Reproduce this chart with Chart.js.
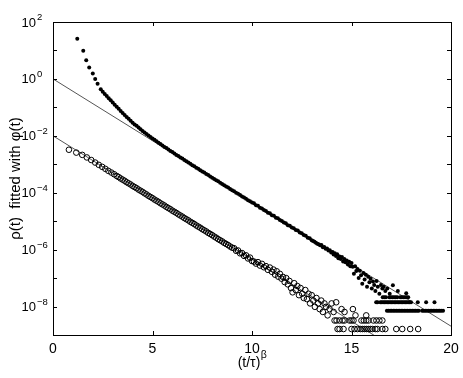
<!DOCTYPE html>
<html>
<head>
<meta charset="utf-8">
<script src="https://cdn.jsdelivr.net/npm/chart.js@4"></script>
<style>
  html, body { margin: 0; padding: 0; background: #fff; }
</style>
</head>
<body>
<canvas id="chartRho" width="463" height="378"></canvas>
<script>
// x = (t/tau)^beta, y kept as decade exponents (log10)

// filled dots: rho(t)
const upperX = [1.22, 1.52, 1.67, 1.82, 2.00, 2.12, 2.24,
  2.4, 2.5, 2.6, 2.7, 2.8, 2.9, 3.0, 3.1, 3.2, 3.3, 3.4, 3.5, 3.6, 3.7, 3.8, 3.9,
  4.0, 4.1, 4.2, 4.3, 4.4, 4.5, 4.6, 4.7, 4.8, 4.9,
  5.0, 5.1, 5.2, 5.3, 5.4, 5.5, 5.6, 5.7, 5.8, 5.9,
  6.0, 6.1, 6.2, 6.3, 6.4, 6.5, 6.6, 6.7, 6.8, 6.9,
  7.0, 7.1, 7.2, 7.3, 7.4, 7.5, 7.6, 7.7, 7.8, 7.9,
  8.0, 8.1, 8.2, 8.3, 8.4, 8.5, 8.6, 8.7, 8.8, 8.9,
  9.0, 9.1, 9.2, 9.3, 9.4, 9.5, 9.6, 9.7, 9.8, 9.9,
  10.0, 10.1, 10.2, 10.3, 10.4, 10.5, 10.6, 10.7, 10.8, 10.9,
  11.0, 11.1, 11.2, 11.3, 11.4, 11.5, 11.6, 11.7, 11.8, 11.9,
  12.0, 12.1, 12.2, 12.3, 12.4, 12.5, 12.6, 12.7, 12.8, 12.9,
  13.0, 13.07, 13.14, 13.21, 13.28, 13.35, 13.42, 13.49, 13.56, 13.63, 13.70, 13.77, 13.84, 13.91, 13.98,
  14.05, 14.10, 14.16, 14.22, 14.28, 14.34, 14.40, 14.46, 14.52, 14.58, 14.64, 14.70, 14.76, 14.82, 14.88, 14.94, 15.00,
  15.06, 15.12, 15.18, 15.24, 15.30, 15.36, 15.42, 15.48, 15.54, 15.60,
  15.66, 15.72, 15.78, 15.84, 15.90, 15.96, 16.02, 16.08, 16.14, 16.20,
  16.26, 16.32, 16.40, 16.48, 16.55, 16.62, 16.70, 16.80, 16.92, 17.08,
  17.33, 17.75];
const upperLog = [1.41, 0.99, 0.66, 0.40, 0.19, 0.00, -0.17,
  -0.36, -0.45, -0.53, -0.60, -0.68, -0.75, -0.83, -0.91, -0.98, -1.05, -1.13, -1.20, -1.27, -1.34, -1.40, -1.47,
  -1.54, -1.60, -1.65, -1.71, -1.77, -1.83, -1.88, -1.94, -1.99, -2.04,
  -2.09, -2.14, -2.19, -2.24, -2.29, -2.34, -2.39, -2.43, -2.48, -2.53,
  -2.57, -2.62, -2.67, -2.71, -2.76, -2.80, -2.85, -2.89, -2.94, -2.98,
  -3.03, -3.07, -3.12, -3.16, -3.21, -3.25, -3.29, -3.34, -3.38, -3.43,
  -3.47, -3.52, -3.56, -3.60, -3.65, -3.69, -3.74, -3.78, -3.82, -3.87,
  -3.91, -3.95, -4.00, -4.04, -4.08, -4.13, -4.17, -4.21, -4.26, -4.30,
  -4.34, -4.37, -4.44, -4.46, -4.53, -4.55, -4.61, -4.64, -4.70, -4.72,
  -4.79, -4.81, -4.88, -4.90, -4.96, -4.99, -5.05, -5.07, -5.14, -5.16,
  -5.22, -5.25, -5.31, -5.33, -5.40, -5.42, -5.49, -5.51, -5.58, -5.60,
  -5.67, -5.70, -5.72, -5.76, -5.79, -5.81, -5.85, -5.84, -5.92, -5.91, -5.97, -5.96, -6.03, -6.02, -6.10,
  -6.08, -6.17, -6.13, -6.22, -6.16, -6.30, -6.24, -6.33, -6.26, -6.42, -6.33, -6.44, -6.38, -6.52, -6.43, -6.58, -6.47,
  -6.60, -6.85, -6.58, -6.75, -6.68, -7.00, -6.74, -6.90, -7.20, -6.82,
  -7.05, -6.88, -7.30, -6.95, -7.15, -7.02, -7.37, -7.12, -7.24, -7.45,
  -7.10, -7.30, -7.55, -7.24, -7.37, -7.30, -7.45, -7.37, -7.55, -7.25,
  -7.45, -7.53];
// the flat rows at the end (1, 2 and 3 counts)
const upperRowLog = [-8.15, -7.85, -7.67];
const upperRowX = [
  [16.78, 16.86, 16.94, 17.02, 17.10, 17.18, 17.26, 17.34, 17.42, 17.50, 17.58, 17.66, 17.74, 17.82, 17.90, 17.98,
   18.06, 18.14, 18.22, 18.30, 18.38, 18.55, 18.63, 18.71, 18.79, 18.87, 18.95, 19.03, 19.11, 19.19, 19.27, 19.35,
   19.43, 19.51, 19.60],
  [16.24, 16.31, 16.45, 16.52, 16.59, 16.66, 16.73, 16.80, 16.87, 16.94, 17.01, 17.08, 17.15, 17.22, 17.29, 17.36,
   17.43, 17.50, 17.57, 17.64, 17.71, 17.78, 17.85, 17.92, 17.99, 18.33, 18.75, 19.17],
  [16.57, 16.65, 16.73, 16.90, 16.98, 17.06, 17.14, 17.22, 17.30, 17.45, 17.53, 17.61, 17.69, 17.77, 17.85]
];

// open circles
const lowerX = [0.80, 1.17, 1.47, 1.70, 1.92, 2.12, 2.30, 2.47, 2.63, 2.78, 2.93, 3.07, 3.20,
  3.3, 3.4, 3.5, 3.6, 3.7, 3.8, 3.9,
  4.0, 4.1, 4.2, 4.3, 4.4, 4.5, 4.6, 4.7, 4.8, 4.9,
  5.0, 5.1, 5.2, 5.3, 5.4, 5.5, 5.6, 5.7, 5.8, 5.9,
  6.0, 6.1, 6.2, 6.3, 6.4, 6.5, 6.6, 6.7, 6.8, 6.9,
  7.0, 7.1, 7.2, 7.3, 7.4, 7.5, 7.6, 7.7, 7.8, 7.9,
  8.0, 8.1, 8.2, 8.3, 8.4, 8.5, 8.6, 8.7, 8.8, 8.9,
  9.0, 9.1, 9.2, 9.3, 9.4, 9.5, 9.6, 9.7, 9.8, 9.9,
  10.0,
  10.1, 10.2, 10.3, 10.4, 10.5, 10.6, 10.7, 10.8, 10.9, 11.0,
  11.08, 11.16, 11.24, 11.32, 11.40, 11.48, 11.56, 11.64, 11.72, 11.80, 11.88, 11.96,
  12.04, 12.12, 12.20, 12.28, 12.36, 12.44, 12.52, 12.60, 12.68, 12.76, 12.84, 12.92, 13.00,
  13.08, 13.16, 13.24, 13.32, 13.40, 13.48, 13.56, 13.64, 13.72, 13.80,
  13.90, 14.00, 14.10, 14.23, 14.50, 14.65, 15.07, 15.20, 15.74];
const lowerLog = [-2.49, -2.59, -2.67, -2.76, -2.85, -2.94, -3.02, -3.09, -3.16, -3.23, -3.29, -3.35, -3.41,
  -3.45, -3.50, -3.54, -3.58, -3.63, -3.67, -3.71,
  -3.76, -3.80, -3.84, -3.89, -3.93, -3.97, -4.02, -4.06, -4.11, -4.15,
  -4.19, -4.24, -4.28, -4.32, -4.37, -4.41, -4.45, -4.50, -4.54, -4.58,
  -4.63, -4.67, -4.71, -4.76, -4.80, -4.84, -4.89, -4.93, -4.97, -5.02,
  -5.06, -5.10, -5.15, -5.19, -5.23, -5.28, -5.32, -5.36, -5.41, -5.45,
  -5.49, -5.54, -5.58, -5.63, -5.67, -5.71, -5.76, -5.80, -5.84, -5.89,
  -5.93, -5.95, -6.04, -6.03, -6.13, -6.12, -6.22, -6.20, -6.31, -6.28,
  -6.40,
  -6.42, -6.49, -6.44, -6.56, -6.50, -6.62, -6.58, -6.71, -6.63, -6.78,
  -6.70, -6.88, -6.76, -6.95, -6.85, -7.02, -6.96, -7.14, -7.00, -7.22, -7.10, -7.35,
  -7.50, -7.18, -7.42, -7.28, -7.60, -7.35, -7.55, -7.70, -7.42, -7.74, -7.55, -7.89, -7.60,
  -7.79, -8.01, -7.70, -7.89, -8.09, -7.79, -8.19, -7.89, -8.01, -8.31,
  -8.09, -7.89, -8.19, -7.85, -8.09, -8.19, -8.09, -8.31, -8.31];
const lowerRowLog = [-8.79, -8.49];
const lowerRowX = [
  [14.30, 14.40, 14.60, 15.00, 15.15, 15.30, 15.45, 15.55, 15.65, 15.75, 15.85, 15.95, 16.05, 16.20, 16.30,
   16.55, 16.70, 17.25, 17.55, 17.95, 18.35],
  [14.15, 14.25, 14.40, 14.55, 14.65, 14.90, 15.00, 15.10, 15.50, 15.62, 15.74, 15.86, 16.10, 16.25, 16.40, 16.55]
];

// fitted phi(t) lines (straight on this plot)
const fitX = [0, 20];
const fitUpperLog = [0, -8.69];
const fitLowerLog = [-2, -10.69];

const xTicks = [0, 5, 10, 15, 20];
const yLabelExps = [2, 0, -2, -4, -6, -8];
const yTickExps = [2, 1, 0, -1, -2, -3, -4, -5, -6, -7, -8, -9];

const FONT = "'Liberation Sans', Arial, Helvetica, sans-serif";

function toPoints(xs, logs) {
  return xs.map((x, i) => ({ x: x, y: Math.pow(10, logs[i]) }));
}
function rowPoints(rows, levels) {
  let pts = [];
  rows.forEach((xs, k) => xs.forEach(x => pts.push({ x: x, y: Math.pow(10, levels[k]) })));
  return pts;
}

const frame = {
  id: 'frame',
  afterDraw(chart) {
    const { ctx, chartArea: a, scales } = chart;
    const sx = scales.x, sy = scales.y;
    ctx.save();
    ctx.strokeStyle = '#000';
    ctx.lineWidth = 1;
    ctx.strokeRect(a.left + 0.5, a.top + 0.5, a.right - a.left, a.bottom - a.top);

    // inward ticks, all four sides
    ctx.beginPath();
    xTicks.forEach(v => {
      const px = Math.round(sx.getPixelForValue(v)) + 0.5;
      ctx.moveTo(px, a.bottom); ctx.lineTo(px, a.bottom - 4);
      ctx.moveTo(px, a.top); ctx.lineTo(px, a.top + 4);
    });
    yTickExps.forEach(e => {
      const py = Math.round(sy.getPixelForValue(Math.pow(10, e))) + 0.5;
      ctx.moveTo(a.left, py); ctx.lineTo(a.left + 4, py);
      ctx.moveTo(a.right, py); ctx.lineTo(a.right - 4, py);
    });
    ctx.stroke();

    ctx.fillStyle = '#000';
    // x tick labels
    ctx.font = '14px ' + FONT;
    ctx.textAlign = 'center';
    ctx.textBaseline = 'alphabetic';
    xTicks.forEach(v => ctx.fillText(String(v), sx.getPixelForValue(v), 353));

    // y tick labels 10^n
    yLabelExps.forEach(e => {
      const py = sy.getPixelForValue(Math.pow(10, e));
      ctx.font = '13px ' + FONT;
      ctx.textAlign = 'right';
      ctx.textBaseline = 'middle';
      ctx.fillText('10', 36, py + 1);
      ctx.font = '9.5px ' + FONT;
      ctx.textAlign = 'left';
      ctx.textBaseline = 'alphabetic';
      ctx.fillText(e < 0 ? '\u2212' + Math.abs(e) : String(e), 37, py - 2);
    });

    // x title (t/τ)^β
    ctx.textBaseline = 'alphabetic';
    ctx.font = '14px ' + FONT;
    const main = '(t/\u03c4)';
    const w1 = ctx.measureText(main).width;
    ctx.font = '10.5px ' + FONT;
    const w2 = ctx.measureText('\u03b2').width;
    const x0 = (a.left + a.right) / 2 - (w1 + w2) / 2;
    ctx.textAlign = 'left';
    ctx.font = '14px ' + FONT;
    ctx.fillText(main, x0, 367);
    ctx.font = '10.5px ' + FONT;
    ctx.fillText('\u03b2', x0 + w1 + 0.5, 358);

    // y title
    ctx.translate(16, (a.top + a.bottom) / 2);
    ctx.rotate(-Math.PI / 2);
    ctx.font = '15px ' + FONT;
    ctx.textAlign = 'center';
    ctx.textBaseline = 'middle';
    ctx.fillText('\u03c1(t)  fitted with \u03c6(t)', 0, 0);
    ctx.restore();
  }
};

const ctx = document.getElementById('chartRho');

new Chart(ctx, {
  type: 'scatter',
  data: {
    datasets: [
      {
        label: 'rho',
        data: toPoints(upperX, upperLog).concat(rowPoints(upperRowX, upperRowLog)),
        pointRadius: 2.0,
        pointBackgroundColor: '#000',
        pointBorderWidth: 0
      },
      {
        label: 'open',
        data: toPoints(lowerX, lowerLog).concat(rowPoints(lowerRowX, lowerRowLog)),
        pointRadius: 2.8,
        pointBackgroundColor: 'rgba(0,0,0,0)',
        pointBorderColor: '#000',
        pointBorderWidth: 1
      },
      {
        label: 'fit 1',
        data: toPoints(fitX, fitUpperLog),
        showLine: true,
        pointRadius: 0,
        borderColor: '#555',
        borderWidth: 1
      },
      {
        label: 'fit 2',
        data: toPoints(fitX, fitLowerLog),
        showLine: true,
        pointRadius: 0,
        borderColor: '#555',
        borderWidth: 1
      }
    ]
  },
  options: {
    responsive: false,
    devicePixelRatio: 1,
    animation: false,
    layout: { padding: { left: 53, right: 12, top: 22, bottom: 43 } },
    scales: {
      x: { type: 'linear', min: 0, max: 20, display: false },
      y: { type: 'logarithmic', min: 1e-9, max: 1e2, display: false }
    },
    plugins: {
      legend: { display: false },
      tooltip: { enabled: false }
    }
  },
  plugins: [frame]
});
</script>
</body>
</html>
